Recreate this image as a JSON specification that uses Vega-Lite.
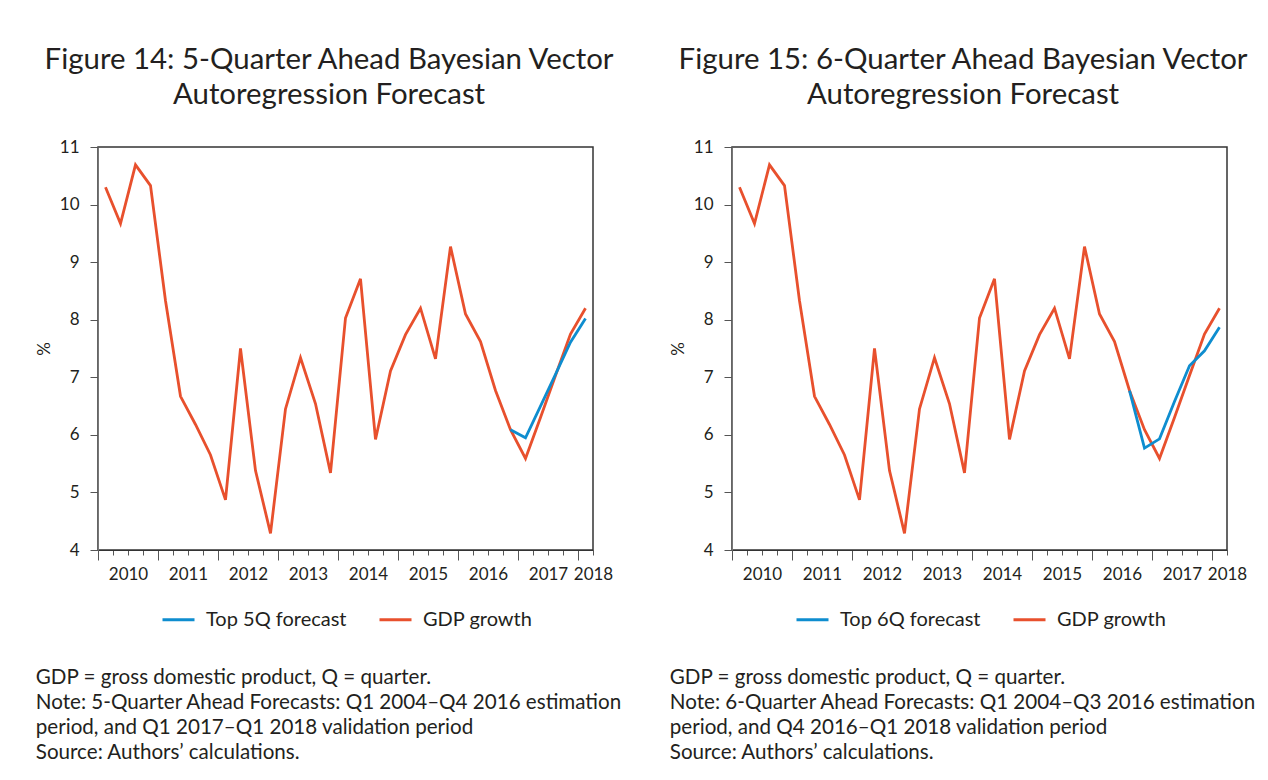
{
  "$schema": "https://vega.github.io/schema/vega-lite/v6.json",
  "background": "white",
  "padding": {"left": 35, "top": 44, "right": 0, "bottom": 0},
  "datasets": {
    "gdp": [
      {"t": 2010.125, "value": 10.30, "series": "GDP growth"},
      {"t": 2010.375, "value": 9.67, "series": "GDP growth"},
      {"t": 2010.625, "value": 10.69, "series": "GDP growth"},
      {"t": 2010.875, "value": 10.33, "series": "GDP growth"},
      {"t": 2011.125, "value": 8.33, "series": "GDP growth"},
      {"t": 2011.375, "value": 6.67, "series": "GDP growth"},
      {"t": 2011.625, "value": 6.18, "series": "GDP growth"},
      {"t": 2011.875, "value": 5.65, "series": "GDP growth"},
      {"t": 2012.125, "value": 4.87, "series": "GDP growth"},
      {"t": 2012.375, "value": 7.50, "series": "GDP growth"},
      {"t": 2012.625, "value": 5.38, "series": "GDP growth"},
      {"t": 2012.875, "value": 4.29, "series": "GDP growth"},
      {"t": 2013.125, "value": 6.45, "series": "GDP growth"},
      {"t": 2013.375, "value": 7.34, "series": "GDP growth"},
      {"t": 2013.625, "value": 6.54, "series": "GDP growth"},
      {"t": 2013.875, "value": 5.34, "series": "GDP growth"},
      {"t": 2014.125, "value": 8.03, "series": "GDP growth"},
      {"t": 2014.375, "value": 8.71, "series": "GDP growth"},
      {"t": 2014.625, "value": 5.92, "series": "GDP growth"},
      {"t": 2014.875, "value": 7.11, "series": "GDP growth"},
      {"t": 2015.125, "value": 7.74, "series": "GDP growth"},
      {"t": 2015.375, "value": 8.20, "series": "GDP growth"},
      {"t": 2015.625, "value": 7.32, "series": "GDP growth"},
      {"t": 2015.875, "value": 9.27, "series": "GDP growth"},
      {"t": 2016.125, "value": 8.10, "series": "GDP growth"},
      {"t": 2016.375, "value": 7.62, "series": "GDP growth"},
      {"t": 2016.625, "value": 6.77, "series": "GDP growth"},
      {"t": 2016.875, "value": 6.09, "series": "GDP growth"},
      {"t": 2017.125, "value": 5.59, "series": "GDP growth"},
      {"t": 2017.375, "value": 6.30, "series": "GDP growth"},
      {"t": 2017.625, "value": 7.03, "series": "GDP growth"},
      {"t": 2017.875, "value": 7.75, "series": "GDP growth"},
      {"t": 2018.125, "value": 8.20, "series": "GDP growth"}
    ],
    "f5": [
      {"t": 2016.875, "value": 6.09, "series": "Top 5Q forecast"},
      {"t": 2017.125, "value": 5.95, "series": "Top 5Q forecast"},
      {"t": 2017.375, "value": 6.50, "series": "Top 5Q forecast"},
      {"t": 2017.625, "value": 7.05, "series": "Top 5Q forecast"},
      {"t": 2017.875, "value": 7.61, "series": "Top 5Q forecast"},
      {"t": 2018.125, "value": 8.02, "series": "Top 5Q forecast"}
    ],
    "f6": [
      {"t": 2016.625, "value": 6.77, "series": "Top 6Q forecast"},
      {"t": 2016.875, "value": 5.77, "series": "Top 6Q forecast"},
      {"t": 2017.125, "value": 5.93, "series": "Top 6Q forecast"},
      {"t": 2017.375, "value": 6.58, "series": "Top 6Q forecast"},
      {"t": 2017.625, "value": 7.20, "series": "Top 6Q forecast"},
      {"t": 2017.875, "value": 7.46, "series": "Top 6Q forecast"},
      {"t": 2018.125, "value": 7.87, "series": "Top 6Q forecast"}
    ]
  },
  "config": {
    "font": "Lato",
    "view": {"stroke": "#333333", "strokeWidth": 1.5},
    "title": {"font": "Lato", "fontWeight": "normal", "color": "#231f20"},
    "axis": {
      "labelFont": "Lato", "labelFontSize": 17, "labelColor": "#231f20",
      "titleFont": "Lato", "titleFontWeight": "normal", "titleFontSize": 17, "titleColor": "#231f20",
      "tickColor": "#555555", "grid": false
    },
    "legend": {
      "labelFont": "Lato", "labelFontSize": 20, "labelColor": "#231f20",
      "symbolType": "stroke", "symbolSize": 1024, "symbolStrokeWidth": 3,
      "labelOffset": 10, "columnPadding": 26, "orient": "none", "direction": "horizontal",
      "legendX": 63, "legendY": 455, "title": null
    }
  },
  "resolve": {"scale": {"color": "independent"}, "legend": {"color": "independent"}},
  "spacing": 45,
  "hconcat": [
    {
      "title": {"text": ["Figure 14: 5-Quarter Ahead Bayesian Vector", "Autoregression Forecast"], "anchor": "middle", "fontSize": 29.4, "lineHeight": 35, "offset": 27},
      "vconcat": [
        {
          "title": {"text": ["GDP = gross domestic product, Q = quarter.", "Note: 5-Quarter Ahead Forecasts: Q1 2004–Q4 2016 estimation", "period, and Q1 2017–Q1 2018 validation period", "Source: Authors’ calculations."], "orient": "bottom", "anchor": "start", "align": "left", "fontSize": 20.6, "lineHeight": 25.2, "offset": 80},
          "width": 495, "height": 403,
          "encoding": {
            "x": {"field": "t", "type": "quantitative", "scale": {"domain": [2010, 2018.25], "nice": false, "zero": false},
              "axis": {"title": null,
                "values": [2010, 2010.25, 2010.5, 2010.75, 2011, 2011.25, 2011.5, 2011.75, 2012, 2012.25, 2012.5, 2012.75, 2013, 2013.25, 2013.5, 2013.75, 2014, 2014.25, 2014.5, 2014.75, 2015, 2015.25, 2015.5, 2015.75, 2016, 2016.25, 2016.5, 2016.75, 2017, 2017.25, 2017.5, 2017.75, 2018, 2018.25],
                "labelExpr": "datum.value % 1 == 0.5 ? '' + floor(datum.value) : (datum.value == 2018.25 ? '2018' : '')",
                "tickSize": {"condition": {"test": "datum.value % 1 == 0", "value": 10}, "value": 5},
                "labelFlush": false, "labelOverlap": false, "labelBound": false, "labelPadding": 11.5,
                "domainColor": "#333333"}},
            "y": {"field": "value", "type": "quantitative", "scale": {"domain": [4, 11], "nice": false, "zero": false},
              "axis": {"title": "%", "values": [4, 5, 6, 7, 8, 9, 10, 11], "tickSize": 8, "labelPadding": 11, "titlePadding": 5.5, "domainColor": "#777777"}},
            "color": {"field": "series", "type": "nominal", "scale": {"domain": ["Top 5Q forecast", "GDP growth"], "range": ["#0e8dcf", "#e8502d"]}}
          },
          "layer": [
            {"data": {"name": "gdp"}, "mark": {"type": "line", "strokeWidth": 2.8}},
            {"data": {"name": "f5"}, "mark": {"type": "line", "strokeWidth": 2.8}}
          ]
        }
      ]
    },
    {
      "title": {"text": ["Figure 15: 6-Quarter Ahead Bayesian Vector", "Autoregression Forecast"], "anchor": "middle", "fontSize": 29.4, "lineHeight": 35, "offset": 27},
      "vconcat": [
        {
          "title": {"text": ["GDP = gross domestic product, Q = quarter.", "Note: 6-Quarter Ahead Forecasts: Q1 2004–Q3 2016 estimation", "period, and Q4 2016–Q1 2018 validation period", "Source: Authors’ calculations."], "orient": "bottom", "anchor": "start", "align": "left", "fontSize": 20.6, "lineHeight": 25.2, "offset": 80},
          "width": 495, "height": 403,
          "encoding": {
            "x": {"field": "t", "type": "quantitative", "scale": {"domain": [2010, 2018.25], "nice": false, "zero": false},
              "axis": {"title": null,
                "values": [2010, 2010.25, 2010.5, 2010.75, 2011, 2011.25, 2011.5, 2011.75, 2012, 2012.25, 2012.5, 2012.75, 2013, 2013.25, 2013.5, 2013.75, 2014, 2014.25, 2014.5, 2014.75, 2015, 2015.25, 2015.5, 2015.75, 2016, 2016.25, 2016.5, 2016.75, 2017, 2017.25, 2017.5, 2017.75, 2018, 2018.25],
                "labelExpr": "datum.value % 1 == 0.5 ? '' + floor(datum.value) : (datum.value == 2018.25 ? '2018' : '')",
                "tickSize": {"condition": {"test": "datum.value % 1 == 0", "value": 10}, "value": 5},
                "labelFlush": false, "labelOverlap": false, "labelBound": false, "labelPadding": 11.5,
                "domainColor": "#333333"}},
            "y": {"field": "value", "type": "quantitative", "scale": {"domain": [4, 11], "nice": false, "zero": false},
              "axis": {"title": "%", "values": [4, 5, 6, 7, 8, 9, 10, 11], "tickSize": 8, "labelPadding": 11, "titlePadding": 5.5, "domainColor": "#777777"}},
            "color": {"field": "series", "type": "nominal", "scale": {"domain": ["Top 6Q forecast", "GDP growth"], "range": ["#0e8dcf", "#e8502d"]}}
          },
          "layer": [
            {"data": {"name": "gdp"}, "mark": {"type": "line", "strokeWidth": 2.8}},
            {"data": {"name": "f6"}, "mark": {"type": "line", "strokeWidth": 2.8}}
          ]
        }
      ]
    }
  ]
}
